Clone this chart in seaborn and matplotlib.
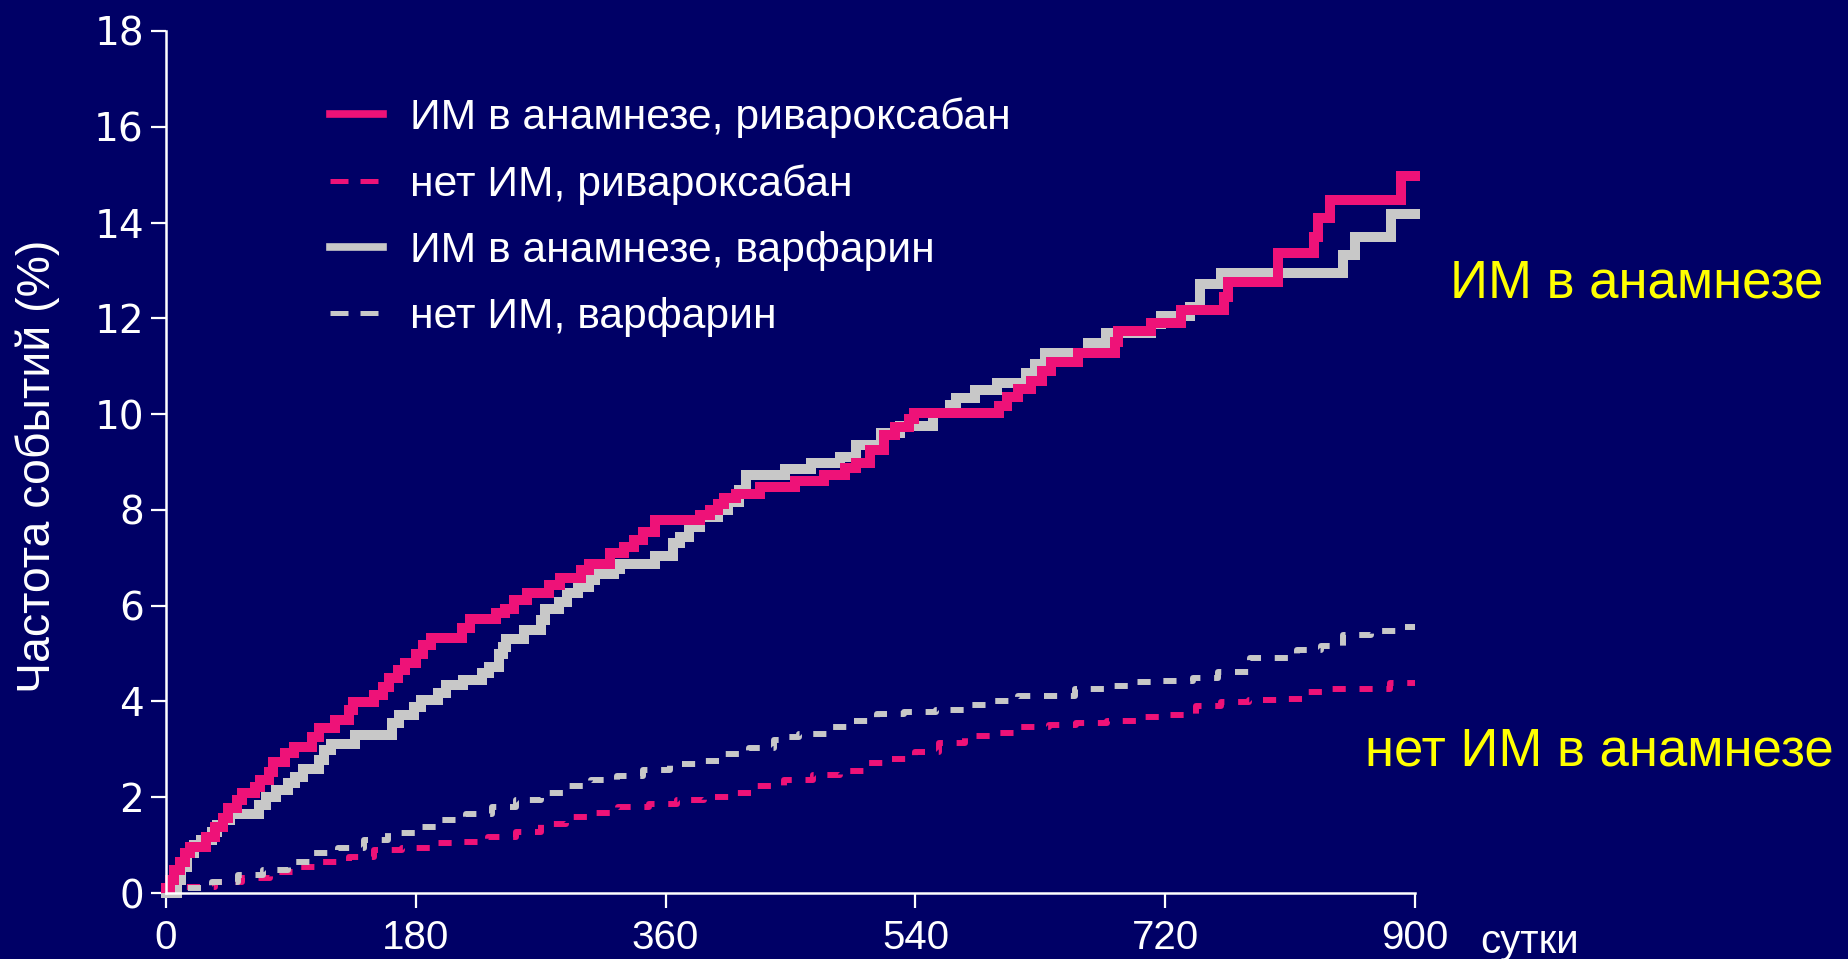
import matplotlib
matplotlib.use("Agg")
import matplotlib.pyplot as plt
from matplotlib.lines import Line2D
import seaborn as sns
import pandas as pd

# ---------------- data (days, cumulative event rate %) ----------------
riva_mi_days = [0, 3, 6, 10, 14, 17, 29, 35, 41, 45, 51, 55, 64, 68, 74, 77, 86, 92, 105, 110,
                122, 132, 135, 150, 156, 161, 167, 172, 180, 185, 191, 213, 219, 238, 244, 251,
                260, 276, 284, 299, 305, 320, 330, 337, 344, 352, 385, 392, 398, 402, 411, 428,
                453, 474, 489, 497, 507, 517, 525, 535, 539, 600, 606, 614, 623, 631, 638, 657,
                684, 686, 710, 731, 762, 765, 801, 827, 830, 839, 890, 900]
riva_mi_vals = [0.1, 0.27, 0.48, 0.65, 0.83, 0.97, 1.18, 1.38, 1.56, 1.77, 1.94, 2.08, 2.22, 2.36,
                2.53, 2.74, 2.92, 3.05, 3.26, 3.44, 3.61, 3.82, 3.99, 4.13, 4.31, 4.48, 4.66, 4.8,
                5.0, 5.18, 5.32, 5.53, 5.72, 5.84, 5.94, 6.12, 6.26, 6.43, 6.58, 6.74, 6.88, 7.09,
                7.23, 7.38, 7.54, 7.79, 7.9, 8.0, 8.12, 8.25, 8.34, 8.47, 8.61, 8.73, 8.87, 8.98,
                9.25, 9.56, 9.73, 9.9, 10.02, 10.17, 10.35, 10.52, 10.7, 10.9, 11.09, 11.28, 11.51,
                11.74, 11.9, 12.17, 12.45, 12.76, 13.37, 13.7, 14.1, 14.48, 14.97, 14.97]

riva_nomi_days = [0, 2, 35, 55, 75, 92, 112, 132, 150, 170, 190, 212, 232, 252, 270, 288, 306, 326,
                  348, 368, 388, 408, 426, 445, 466, 486, 503, 523, 540, 557, 576, 597, 616, 636,
                  656, 678, 700, 722, 742, 760, 780, 802, 820, 840, 882, 900]
riva_nomi_vals = [0.0, 0.13, 0.24, 0.31, 0.44, 0.55, 0.65, 0.76, 0.9, 0.95, 1.04, 1.07, 1.18, 1.28,
                  1.44, 1.59, 1.68, 1.8, 1.85, 1.94, 2.01, 2.08, 2.23, 2.37, 2.46, 2.55, 2.72, 2.79,
                  2.95, 3.13, 3.28, 3.35, 3.46, 3.51, 3.56, 3.6, 3.67, 3.72, 3.9, 3.99, 4.03, 4.05,
                  4.2, 4.27, 4.38, 4.38]

warf_mi_days = [0, 8, 11, 15, 20, 25, 33, 37, 41, 46, 67, 72, 79, 88, 93, 99, 110, 114, 119, 136,
                163, 168, 179, 184, 196, 202, 214, 228, 233, 240, 243, 245, 258, 270, 273, 283, 289,
                297, 305, 309, 323, 327, 352, 365, 370, 377, 385, 398, 405, 413, 418, 446, 465, 486,
                497, 515, 529, 553, 565, 569, 583, 599, 620, 626, 633, 664, 677, 710, 717, 738, 745,
                760, 848, 857, 883, 900]
warf_mi_vals = [0.0, 0.27, 0.55, 0.83, 1.0, 1.1, 1.28, 1.42, 1.52, 1.66, 1.84, 2.01, 2.15, 2.29,
                2.43, 2.6, 2.78, 2.99, 3.12, 3.3, 3.54, 3.72, 3.89, 4.03, 4.17, 4.34, 4.45, 4.59,
                4.72, 5.0, 5.14, 5.3, 5.49, 5.7, 5.94, 6.08, 6.26, 6.39, 6.53, 6.66, 6.76, 6.86,
                7.04, 7.3, 7.44, 7.65, 7.86, 8.0, 8.17, 8.41, 8.73, 8.85, 8.97, 9.1, 9.35, 9.6,
                9.75, 10.03, 10.19, 10.33, 10.5, 10.65, 10.85, 11.05, 11.28, 11.48, 11.69, 11.88,
                12.05, 12.24, 12.71, 12.95, 13.32, 13.7, 14.17, 14.17]

warf_nomi_days = [0, 2, 33, 52, 70, 88, 106, 124, 143, 160, 180, 198, 216, 235, 252, 270, 288, 306,
                  325, 344, 363, 383, 402, 420, 438, 443, 456, 476, 495, 512, 532, 555, 576, 595,
                  614, 655, 678, 696, 716, 740, 758, 781, 815, 832, 848, 868, 888, 900]
warf_nomi_vals = [0.0, 0.1, 0.23, 0.38, 0.48, 0.65, 0.83, 0.93, 1.1, 1.25, 1.37, 1.52, 1.65, 1.79,
                  1.94, 2.08, 2.23, 2.36, 2.44, 2.57, 2.69, 2.76, 2.9, 3.02, 3.19, 3.26, 3.33, 3.46,
                  3.6, 3.73, 3.78, 3.83, 3.92, 4.01, 4.12, 4.25, 4.32, 4.41, 4.43, 4.5, 4.62, 4.9,
                  5.07, 5.16, 5.39, 5.47, 5.56, 5.56]

legend_labels = ["ИМ в анамнезе, ривароксабан", "нет ИМ, ривароксабан",
                 "ИМ в анамнезе, варфарин", "нет ИМ, варфарин"]
x_ticks = [0, 180, 360, 540, 720, 900]
y_ticks = [0, 2, 4, 6, 8, 10, 12, 14, 16, 18]

# ---------------- style ----------------
BG = "#000066"
PINK = "#EE1278"
GRAY = "#C8C8C8"
WHITE = "#FFFFFF"
YELLOW = "#FFFF00"
SANS = ["Liberation Sans", "DejaVu Sans"]

plt.rcParams["font.family"] = SANS

fig = plt.figure(figsize=(18.49, 9.59), dpi=100, facecolor=BG)
ax = fig.add_axes([0.0898, 0.0688, 0.6755, 0.8989])
ax.set_facecolor(BG)

series = [
    (riva_mi_days, riva_mi_vals, PINK, "-", 7.2),
    (riva_nomi_days, riva_nomi_vals, PINK, (0, (2.2, 2.3)), 4.3),
    (warf_mi_days, warf_mi_vals, GRAY, "-", 7.2),
    (warf_nomi_days, warf_nomi_vals, GRAY, (0, (2.2, 2.3)), 4.3),
]
# draw dashed first, then solid on top
for idx in [1, 3, 2, 0]:
    d, v, c, ls, lw = series[idx]
    df = pd.DataFrame({"day": d, "rate": v})
    sns.lineplot(data=df, x="day", y="rate", ax=ax, color=c, linestyle=ls, linewidth=lw,
                 drawstyle="steps-post", estimator=None, sort=False, legend=False,
                 clip_on=False, solid_joinstyle="miter", dash_capstyle="butt")

ax.set_xlim(0, 900)
ax.set_ylim(0, 18)
ax.set_xticks(x_ticks)
ax.set_yticks(y_ticks)
ax.set_xlabel("")
ax.set_ylabel("")

for s in ["top", "right"]:
    ax.spines[s].set_visible(False)
for s in ["left", "bottom"]:
    ax.spines[s].set_color(WHITE)
    ax.spines[s].set_linewidth(1.8)

ax.tick_params(axis="both", colors=WHITE, width=1.6, length=11, direction="out")
ax.tick_params(axis="y", pad=5)
ax.tick_params(axis="x", pad=8)
for lab in ax.get_yticklabels():
    lab.set_family(["DejaVu Sans"])
    lab.set_fontsize(28)
for lab in ax.get_xticklabels():
    lab.set_family(SANS)
    lab.set_fontsize(29)

# x unit label
ax.text(1.052, -0.0352, "сутки", transform=ax.transAxes, color=WHITE, fontsize=29,
        family=SANS, ha="left", va="top")

# y label
fig.text(38 / 1849, 1 - 466 / 959, "Частота событий (%)", rotation=90, color=WHITE,
         fontsize=33.5, family=SANS, ha="center", va="center")

# legend
handles = [
    Line2D([0], [0], color=PINK, lw=5.5, linestyle="-"),
    Line2D([0], [0], color=PINK, lw=3.6, linestyle=(0, (3.6, 2.4))),
    Line2D([0], [0], color=GRAY, lw=5.5, linestyle="-"),
    Line2D([0], [0], color=GRAY, lw=3.6, linestyle=(0, (3.6, 2.4))),
]
leg = ax.legend(handles, legend_labels, loc="upper left", bbox_to_anchor=(0.131, 0.923),
                frameon=False, borderaxespad=0, borderpad=0, handlelength=1.25,
                handletextpad=0.63, labelspacing=0.61, fontsize=30.7)
for t in leg.get_texts():
    t.set_color(WHITE)

# group annotations
fig.text(1450 / 1849, 1 - 283 / 959, "ИМ в анамнезе", color=YELLOW, fontsize=38,
         ha="left", va="center")
fig.text(1365 / 1849, 1 - 751 / 959, "нет ИМ в анамнезе", color=YELLOW, fontsize=38,
         ha="left", va="center")

fig.savefig("out.png", dpi=100, facecolor=BG)
